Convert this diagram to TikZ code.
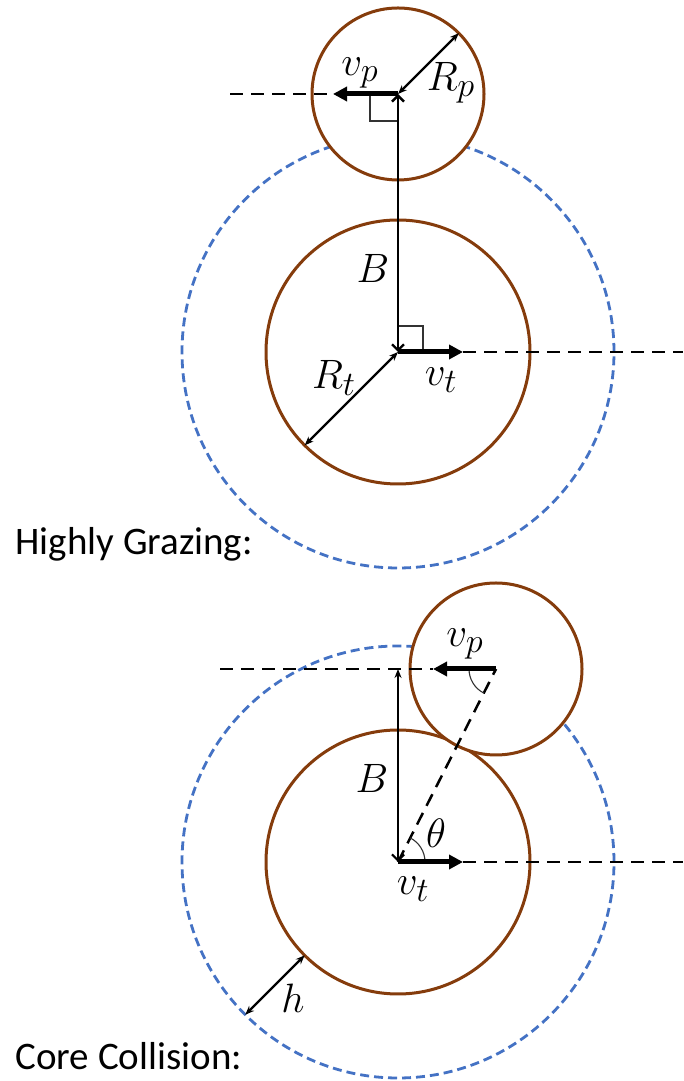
\RequirePackage{fix-cm}
\documentclass[tikz,border=0pt]{standalone}
\usepackage{fontspec}
\setmainfont{Carlito}
\usepackage{tikz}
\usetikzlibrary{arrows.meta,calc}
\definecolor{nucleuscolor}{RGB}{133,60,12}
\definecolor{rangecolor}{RGB}{68,114,196}

\begin{document}
\begin{tikzpicture}[x=1pt, y=1pt,
        nucleus/.style={draw=nucleuscolor, line width=3pt, fill=white},
        reach/.style={draw=rangecolor, line width=2.8pt, dash pattern=on 9pt off 5pt},
        track/.style={line width=2.5pt, dash pattern=on 13pt off 8pt},
        velo/.style={line width=5pt, -{Triangle[length=14pt, width=14pt]}},
        dim/.style={line width=2.2pt, {Stealth[length=9pt, width=7pt]}-{Stealth[length=9pt, width=7pt]}},
        impact/.style={line width=2.4pt, {Straight Barb[length=6pt, width=12pt]}-{Straight Barb[length=6pt, width=12pt]}},
        anglemark/.style={line width=1.1pt, black!80},
        lbl/.style={font=\Huge, scale=1.65},
        title/.style={font=\fontsize{39}{46}\selectfont, anchor=base west}
    ]
    \useasboundingbox (0,0) rectangle (683,1081);

    % Highly grazing
    \coordinate (tgtA) at (398,729);
    \coordinate (prjA) at (398,987);
    \draw[reach] (tgtA) circle (216);
    \draw[nucleus] (tgtA) circle (132);
    \draw[nucleus] (prjA) circle (86);

    \coordinate (rpA) at ($(prjA)+(45:86)$);
    \coordinate (rtA) at ($(tgtA)+(225:132)$);
    \coordinate (vpA) at (333,987);
    \coordinate (vtA) at (463,729);
    \coordinate (farA) at (230,987);
    \coordinate (endA) at (683,729);

    \draw[track] (farA) -- (vpA);
    \draw[track] (vtA) -- (endA);
    \draw[anglemark] ($(prjA)+(-28,0)$) -- ++(0,-27) -- ++(28,0);
    \draw[anglemark] ($(tgtA)+(0,26)$) -- ++(25,0) -- ++(0,-26);
    \draw[impact] (tgtA) -- (prjA);
    \draw[dim] (prjA) -- (rpA);
    \draw[dim] (tgtA) -- (rtA);
    \draw[velo] (prjA) -- (vpA);
    \draw[velo] (tgtA) -- (vtA);

    \node[lbl] (vpAlbl) at (360,1008) {$v_p$};
    \node[lbl] (rpAlbl) at (451,998) {$R_p$};
    \node[lbl] (bAlbl) at (373,813) {$B$};
    \node[lbl] (rtAlbl) at (334,703) {$R_t$};
    \node[lbl] (vtAlbl) at (441,701) {$v_t$};
    \node[title] (grazing) at (12,526) {Highly Grazing:};

    % Core collision
    \coordinate (tgtB) at (398,219);
    \coordinate (prjB) at (496,412);
    \draw[reach] (tgtB) circle (216);
    \draw[nucleus] (tgtB) circle (132);
    \draw[nucleus] (prjB) circle (86);

    \coordinate (topB) at (398,412);
    \coordinate (farB) at (220,412);
    \coordinate (vpB) at (433,412);
    \coordinate (vtB) at (463,219);
    \coordinate (endB) at (683,219);
    \coordinate (hin) at ($(tgtB)+(225:132)$);
    \coordinate (hout) at ($(tgtB)+(225:216)$);

    \draw[track] (farB) -- (vpB);
    \draw[track] (vtB) -- (endB);
    \draw[track] (tgtB) -- (prjB);
    \draw[anglemark] ($(tgtB)+(27,0)$) arc[start angle=0, end angle=63.1, radius=27];
    \draw[anglemark] ($(prjB)+(-27,0)$) arc[start angle=180, end angle=243.1, radius=27];
    \draw[line width=2.2pt, {Straight Barb[length=6pt, width=12pt]}-{Stealth[length=9pt, width=7pt]}] (tgtB) -- (topB);
    \draw[dim] (hin) -- (hout);
    \draw[velo] (prjB) -- (vpB);
    \draw[velo] (tgtB) -- (vtB);

    \node[lbl] (vpBlbl) at (465,437) {$v_p$};
    \node[lbl] (bBlbl) at (372,303) {$B$};
    \node[lbl] (thlbl) at (436,248) {$\theta$};
    \node[lbl] (vtBlbl) at (413,192) {$v_t$};
    \node[lbl] (hlbl) at (293,83) {$h$};
    \node[title] (core) at (12,11) {Core Collision:};
\end{tikzpicture}
\end{document}
